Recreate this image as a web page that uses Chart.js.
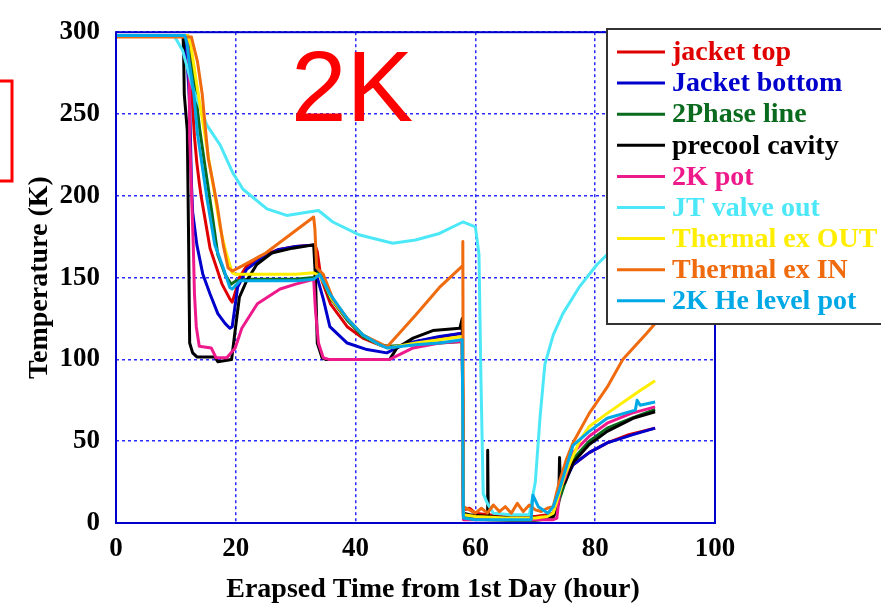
<!DOCTYPE html>
<html>
<head>
<meta charset="utf-8">
<title>2K temperatures</title>
<script src="https://cdn.jsdelivr.net/npm/chart.js@4"></script>
<style>
  html, body { margin: 0; padding: 0; background: #fff; }
  #wrap { width: 881px; height: 607px; position: relative; }
</style>
</head>
<body>
<div id="wrap"><canvas id="chart"></canvas></div>
<script>
// ------------------ Data (hour, K) ------------------
const seriesNames = ["jacket top", "Jacket bottom", "2Phase line", "precool cavity", "2K pot",
  "JT valve out", "Thermal ex OUT", "Thermal ex IN", "2K He level pot"];
const seriesColors = ["#e00000", "#0000cc", "#0a6b1e", "#000000", "#ee1a8c",
  "#4de8f8", "#ffee00", "#f06a0e", "#00a8e6"];
const xTicks = [0, 20, 40, 60, 80, 100];
const yTicks = [0, 50, 100, 150, 200, 250, 300];

const jacketTop = [[0,298],[11.8,298],[12.0,290],[12.4,282],[12.8,255],[13.1,236],[13.5,220],[13.9,208],
  [14.2,200],[15.7,168],[17.7,146],[19.0,137],[19.4,135],[20.0,142],[20.6,150],[21.8,157],[24,163],[27,167],
  [30,169],[33.2,170],[33.6,166],[34.2,150],[35.8,134],[38.6,120],[41.2,113],[44.6,108],[46,107],[49,110],
  [53,113],[57.8,116],[58.0,8],[59.0,9],[60,6],[62,5],[66,4],[70,4],[72,5],[73,6],[74,18],[75,28],
  [76.3,35.6],[79,43],[82,49],[85.6,54],[90,58]];

const jacketBottom = [[0,298],[11.5,298],[12.0,275],[12.3,256],[12.6,207],[12.8,190],[13.5,170],[14.5,152],
  [15.7,140],[17.0,128],[18.2,122],[19.0,119],[19.4,120],[20.3,144],[21.8,155],[24,161],[27,167],[30,169],
  [33.2,170],[33.6,150],[34.6,137],[35.7,120],[38.6,110],[41.9,106],[45.2,104],[47.4,108],[50,111],[54,114],
  [57.8,116],[58.0,5],[59,4],[62,3],[66,3],[70,3],[72,3],[73,4],[74,15],[74.5,22],[76.3,35.6],[79,43],
  [82,49],[86.3,54],[90,58]];

const twoPhaseLine = [[0,298],[12,298],[12.5,290],[13.2,265],[14,240],[14.9,217],[16,190],[17,164],
  [18.2,152],[19.2,146],[20,148],[22,149],[26,149],[30,149],[33,150],[34,154],[34.6,148],[35.7,138],
  [38.6,124],[41.2,114],[44,109],[45.5,108],[50,109],[54,110],[57.8,111],[58,4],[59,3],[62,2],[66,1.5],
  [70,1.5],[73,3],[74,14],[75,25],[76.3,39],[79,50],[82,58],[86,64],[90,69.5]];

const precoolCavity = [[0,298],[11.2,298],[11.3,285],[11.4,262],[11.9,240],[12.1,180],[12.3,110],[12.8,104],
  [13.5,101.5],[16.5,101.5],[17.0,98.6],[19.3,100],[19.8,115],[20.6,138],[21.8,148],[23.5,158],[26,165],
  [29.5,168],[33.0,170],[33.3,150],[33.6,110],[34.4,101],[35,100],[45.7,100],[46.9,107],[49.6,113],
  [52.9,117.6],[57.4,119],[57.8,125],[58.0,6],[59,5],[62.0,4],[62.05,44.5],[62.15,4],[66,3],[70,3],[73,4],
  [73.9,12],[74.05,40],[74.2,22],[75,25],[76.3,37],[79,48],[82,56],[86.3,64],[90,68]];

const twoKPot = [[0,298],[11.8,298],[12.0,290],[12.2,276],[12.3,236],[12.6,202],[12.9,170],[13.1,140],
  [13.4,120],[13.9,108],[15.9,107],[16.7,101],[18.5,101],[19.9,107],[21.0,119],[23.6,134],[27.4,143],
  [30,146],[33.0,149],[33.3,130],[33.8,110],[34.6,101],[35.5,100],[45.7,100],[49.6,107],[54,110],
  [57.8,111],[58.0,2],[60,2],[65,2],[70,2],[73,2],[73.6,3],[74.1,20],[75,28],[76.3,43],[79,53],[82,61],
  [86,67],[90,71]];

const jtValveOut = [[0,298],[9.5,298],[10.0,296],[11.1,289],[12.9,265],[15.2,243],[17.4,231],[19.5,214],
  [21.2,204],[25.2,192],[28.5,188],[31.9,190],[33.8,191],[36.2,184],[40.7,176],[46.2,171],[50,173],
  [54,177],[57.9,184],[60.0,181],[60.6,164],[60.9,93],[61.3,18],[62.0,12],[63,6],[66,5],[69,5],[70.0,25],
  [70.8,65],[71.6,97],[73.0,115],[74.6,128],[77.3,144],[80.3,158],[82,164],[85,172],[90,178]];

const thermalExOut = [[0,298],[12,298],[12.5,292],[13.4,270],[14.5,245],[15.5,222],[16.5,200],[17.4,180],
  [18.4,165],[19.4,153],[20.0,152],[22,152],[26,152],[30,152],[33,153],[34,151],[35,145],[36,137],
  [38.6,125],[41.2,115],[44,109],[45.5,107],[50,110],[54,112],[57.8,114],[58.0,5],[60,4],[65,3],[70,3],
  [72,4],[73,6],[74,18],[75,30],[77.5,51],[79,59],[82,67],[87.5,81],[90,87]];

const thermalExIn = [[0,297],[12.6,297],[12.8,294],[13.6,282],[14.4,262],[14.9,242],[15.4,223],[16.2,208],
  [16.9,194],[17.9,170],[18.7,156],[19.4,154],[21,157],[25,165],[29,176],[33.0,187],[33.2,180],[33.5,156],
  [34.6,152],[36.2,137],[38.6,125],[41.2,115],[44,110],[45.2,107.5],[50,127],[54,144],[57.8,157],
  [57.9,172],[58.0,10],[59,8],[60,6],[61,9],[62,6],[63,11],[64,7],[65,10],[66,6],[67,12],[68,7],[69,11],
  [70,8],[71,7],[72,9],[73,10],[74,25],[75.2,39],[76.3,49],[79,67],[82,83],[84.6,100],[88.6,116],[90,122]];

const heLevelPot = [[0,298],[11.5,298],[11.9,292],[12.2,282],[13.0,262],[13.6,238],[14.4,218],[15.2,198],
  [16.5,170],[17.9,156],[19.0,144],[19.4,143],[20.7,148],[25,148],[30,148],[33,149],[34.0,152],[35.7,140],
  [38.6,125],[41.2,115],[44,109],[45.2,107],[50,109],[54,110],[57.8,112],[58.0,3],[60,2],[63,2],[66,2],
  [69.3,2],[69.6,17],[70.5,10],[72.1,6],[73,10],[74,20],[75,32],[76.3,47.5],[79,56],[82,64],[86.7,69],
  [87,75],[87.5,72],[90,74]];

const seriesData = [jacketTop, jacketBottom, twoPhaseLine, precoolCavity, twoKPot,
  jtValveOut, thermalExOut, thermalExIn, heLevelPot];

// ------------------ Fonts ------------------
const SERIF = '"Liberation Serif", "Times New Roman", serif';
const SANS = '"Liberation Sans", Arial, sans-serif';

// ------------------ Extra drawing: frame, 2K label, legend ------------------
const decorPlugin = {
  id: "decor",
  afterDatasetsDraw(chart) {
    const { ctx, chartArea: a } = chart;
    ctx.save();
    // plot frame
    ctx.strokeStyle = "#0000cc";
    ctx.lineWidth = 2;
    ctx.strokeRect(a.left, a.top, a.right - a.left, a.bottom - a.top);
    ctx.restore();
  },
  afterDraw(chart) {
    const { ctx } = chart;
    ctx.save();
    // big "2K"
    ctx.fillStyle = "#ff0000";
    ctx.font = "100px " + SANS;
    ctx.textBaseline = "alphabetic";
    ctx.fillText("2K", 291, 121);

    // red box cut at left edge
    ctx.strokeStyle = "#ff0000";
    ctx.lineWidth = 3;
    ctx.strokeRect(-10, 81, 22, 100);

    // x title, drawn a bit right of the plot centre like the original
    ctx.fillStyle = "#000";
    ctx.font = "bold 28px " + SERIF;
    ctx.textAlign = "center";
    ctx.textBaseline = "middle";
    ctx.fillText("Erapsed Time from 1st Day (hour)", 433, 590);

    // legend
    const lx = 607, ly = 29, lw = 280, lh = 295;
    ctx.fillStyle = "#ffffff";
    ctx.fillRect(lx, ly, lw, lh);
    ctx.strokeStyle = "#333333";
    ctx.lineWidth = 2;
    ctx.strokeRect(lx, ly, lw, lh);
    ctx.textAlign = "left";
    chart.data.datasets.forEach((ds, i) => {
      const y = 52 + i * 31.1;
      ctx.strokeStyle = ds.borderColor;
      ctx.lineWidth = 3;
      ctx.beginPath();
      ctx.moveTo(617, y);
      ctx.lineTo(665, y);
      ctx.stroke();
      ctx.fillStyle = ds.borderColor;
      ctx.fillText(ds.label, 672, y + 1);
    });
    ctx.restore();
  }
};

// ------------------ Chart ------------------
const datasets = seriesNames.map((name, i) => ({
  label: name,
  data: seriesData[i].map(p => ({ x: p[0], y: p[1] })),
  borderColor: seriesColors[i],
  backgroundColor: seriesColors[i],
  borderWidth: 3,
  pointRadius: 0,
  showLine: true,
  fill: false,
  tension: 0,
  borderJoinStyle: "round",
  order: seriesNames.length - i
}));

new Chart(document.getElementById("chart"), {
  type: "scatter",
  data: { datasets },
  options: {
    responsive: true,
    maintainAspectRatio: false,
    animation: false,
    layout: { padding: { top: 18, right: 166, bottom: 0, left: 0 } },
    plugins: { legend: { display: false }, tooltip: { enabled: false } },
    scales: {
      x: {
        type: "linear",
        min: 0, max: 100,
        afterBuildTicks: s => { s.ticks = xTicks.map(v => ({ value: v })); },
        afterFit: s => { s.height = 84; },
        grid: { color: "#2b2bff", lineWidth: 1.5, drawTicks: false },
        border: { display: false, dash: [3, 3] },
        ticks: { color: "#000", padding: 10, font: { family: SERIF, size: 27, weight: "bold" } },
        title: { display: false }
      },
      y: {
        type: "linear",
        min: 0, max: 300,
        afterBuildTicks: s => { s.ticks = yTicks.map(v => ({ value: v })); },
        afterFit: s => { s.width = 116; },
        grid: { color: "#2b2bff", lineWidth: 1.5, drawTicks: false },
        border: { display: false, dash: [3, 3] },
        ticks: { color: "#000", padding: 16, font: { family: SERIF, size: 27, weight: "bold" } },
        title: { display: true, text: "Temperature (K)", color: "#000",
          padding: { top: 23, bottom: 0 }, font: { family: SERIF, size: 28, weight: "bold" } }
      }
    }
  },
  plugins: [decorPlugin]
});
</script>
</body>
</html>
